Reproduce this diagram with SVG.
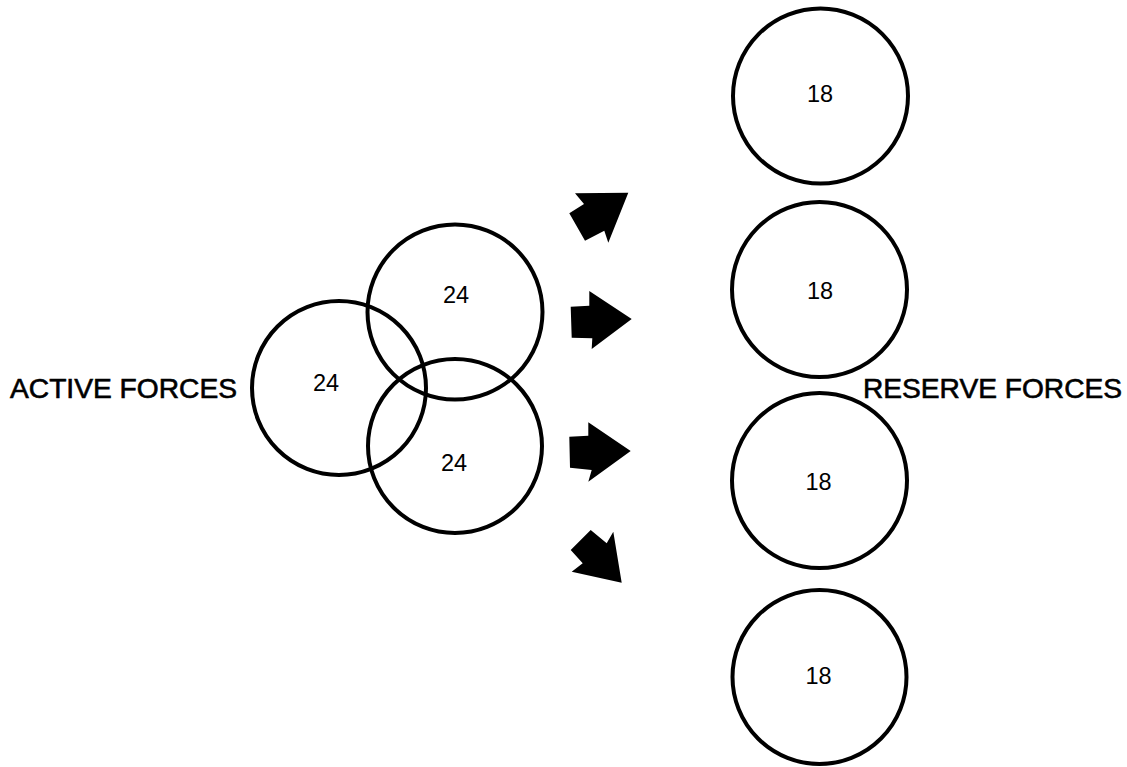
<svg xmlns="http://www.w3.org/2000/svg" width="1127" height="767" viewBox="0 0 1127 767">
<style>
.c{fill:none;stroke:#000;stroke-width:4}
.n{font-family:"Liberation Sans",Arial,sans-serif;font-size:23.5px;fill:#000;text-anchor:middle}
.l{font-family:"Liberation Sans",Arial,sans-serif;font-size:27px;fill:#000;stroke:#000;stroke-width:0.6}
.a{fill:#000}
</style>
<rect width="1127" height="767" fill="#fff"/>
<g id="active-label"><text class="l" x="10" y="398" textLength="227" lengthAdjust="spacingAndGlyphs">ACTIVE FORCES</text></g>
<g id="reserve-label"><text class="l" x="863" y="398" textLength="259" lengthAdjust="spacingAndGlyphs">RESERVE FORCES</text></g>
<g id="active-1"><circle class="c" cx="339" cy="388" r="87"/><text class="n" x="326" y="391">24</text></g>
<g id="active-2"><circle class="c" cx="455" cy="312" r="87.5"/><text class="n" x="456" y="303">24</text></g>
<g id="active-3"><circle class="c" cx="455" cy="446" r="87"/><text class="n" x="454" y="471">24</text></g>
<g id="reserve-1"><circle class="c" cx="820.5" cy="96" r="87.5"/><text class="n" x="820" y="102">18</text></g>
<g id="reserve-2"><circle class="c" cx="819.5" cy="289.5" r="87.5"/><text class="n" x="820" y="299">18</text></g>
<g id="reserve-3"><circle class="c" cx="819.5" cy="480.5" r="87.5"/><text class="n" x="818.5" y="490">18</text></g>
<g id="reserve-4"><circle class="c" cx="819.5" cy="677" r="87"/><text class="n" x="818.5" y="684">18</text></g>
<g id="connectors">
<polygon class="a" points="575,193.3 628.3,192.7 608.3,242.7 604.3,230.7 585,240.7 569.3,213.3 584,204"/>
<polygon class="a" points="570.7,306.7 589.3,305.7 589.3,291 631.7,319 591.7,349 592.3,338.3 571.7,337.7"/>
<polygon class="a" points="569.3,436.7 588.3,435.7 588.3,422.3 630.7,451 588.3,481.7 591.7,470 570,467.7"/>
<polygon class="a" points="590.7,530 606.7,543.3 613.3,531.7 621.7,582.7 571.7,571.7 582.7,563.3 570.7,550"/>
</g>
</svg>
